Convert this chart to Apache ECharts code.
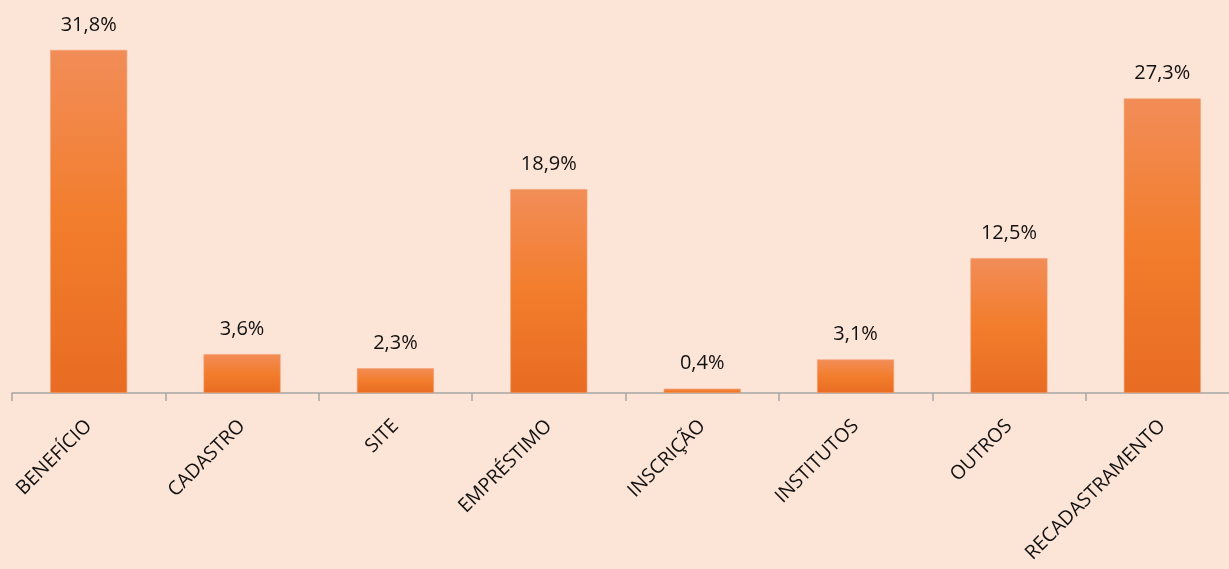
<!DOCTYPE html>
<html>
<head>
<meta charset="utf-8">
<script src="https://cdn.jsdelivr.net/npm/echarts@6/dist/echarts.min.js"></script>
<style>
  html, body { margin: 0; padding: 0; background: #FCE4D6; }
  #chart { width: 1229px; height: 569px; }
</style>
</head>
<body>
<div id="chart"></div>
<script>
const categories = ["BENEFÍCIO", "CADASTRO", "SITE", "EMPRÉSTIMO", "INSCRIÇÃO", "INSTITUTOS", "OUTROS", "RECADASTRAMENTO"];
const values = [31.8, 3.6, 2.3, 18.9, 0.4, 3.1, 12.5, 27.3];

const chart = echarts.init(document.getElementById("chart"));

// barras com degradê laranja
const barColor = new echarts.graphic.LinearGradient(0, 0, 0, 1, [
  { offset: 0, color: "#F28D58" },
  { offset: 0.5, color: "#F27D2C" },
  { offset: 1, color: "#E86C23" },
]);

const option = {
  backgroundColor: "#FCE4D6",
  grid: { left: 12, width: 1227, top: 15.5, bottom: 176, containLabel: false, outerBoundsMode: "none" },
  xAxis: {
    type: "category",
    data: categories,
    axisLine: { lineStyle: { color: "#A6A6A6", width: 1.5 } },
    axisTick: { show: true, length: 8, lineStyle: { color: "#A6A6A6", width: 1.5 } },
    axisLabel: {
      rotate: 45,
      interval: 0,
      margin: 30,
      fontFamily: "Open Sans",
      fontSize: 19.5,
      color: "#111",
    },
  },
  yAxis: {
    type: "value",
    min: 0,
    max: 35,
    show: false,
    splitLine: { show: false },
  },
  series: [
    {
      type: "bar",
      data: values,
      barWidth: 77,
      itemStyle: { color: barColor, borderColor: "#F5A070", borderWidth: 0.6 },
      label: {
        show: true,
        position: "top",
        distance: 15,
        fontFamily: "Open Sans",
        fontSize: 20,
        color: "#111",
        formatter: (p) => p.value.toFixed(1).replace(".", ",") + "%",
      },
      animation: false,
    },
  ],
};

chart.setOption(option);
</script>
</body>
</html>
